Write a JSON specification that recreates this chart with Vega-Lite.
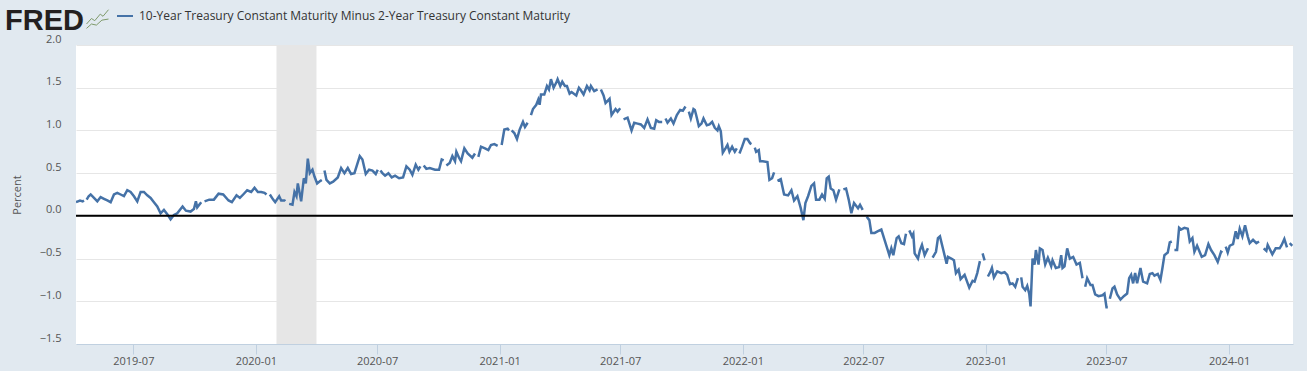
{"$schema":"https://vega.github.io/schema/vega-lite/v6.json","width":1217,"height":299,"autosize":{"type":"none"},"padding":{"left":76,"top":45,"right":14,"bottom":27},"background":"#e1e9f0","view":{"fill":"#ffffff","stroke":null},
"title":{"text":"FRED","anchor":"start","frame":"group","font":"Liberation Sans","fontWeight":"bold","fontSize":29,"color":"#231f20","dx":-71,"dy":33,"offset":4},
"datasets":{"series":[
{"date":"2019-04-06","value":0.16},{"date":"2019-04-09","value":0.17},{"date":"2019-04-12","value":0.18},{"date":"2019-04-16","value":0.17},{"date":"2019-04-18","value":0.18},{"date":"2019-04-19","value":null},{"date":"2019-04-22","value":0.19},{"date":"2019-04-25","value":0.23},{"date":"2019-04-28","value":0.25},{"date":"2019-05-03","value":0.21},{"date":"2019-05-08","value":0.17},{"date":"2019-05-13","value":0.22},{"date":"2019-05-18","value":0.2},{"date":"2019-05-23","value":0.18},{"date":"2019-05-28","value":0.16},{"date":"2019-06-02","value":0.25},{"date":"2019-06-07","value":0.27},{"date":"2019-06-12","value":0.25},{"date":"2019-06-17","value":0.23},{"date":"2019-06-22","value":0.3},{"date":"2019-06-27","value":0.28},{"date":"2019-07-02","value":0.23},{"date":"2019-07-07","value":0.17},{"date":"2019-07-12","value":0.28},{"date":"2019-07-17","value":0.28},{"date":"2019-07-22","value":0.24},{"date":"2019-07-27","value":0.21},{"date":"2019-08-01","value":0.16},{"date":"2019-08-06","value":0.11},{"date":"2019-08-11","value":0.03},{"date":"2019-08-16","value":0.07},{"date":"2019-08-21","value":0.02},{"date":"2019-08-26","value":-0.04},{"date":"2019-08-31","value":0.01},{"date":"2019-09-05","value":0.03},{"date":"2019-09-13","value":0.11},{"date":"2019-09-18","value":0.06},{"date":"2019-09-25","value":0.05},{"date":"2019-09-30","value":0.08},{"date":"2019-10-03","value":0.17},{"date":"2019-10-05","value":0.1},{"date":"2019-10-11","value":0.16},{"date":"2019-10-14","value":null},{"date":"2019-10-16","value":0.17},{"date":"2019-10-23","value":0.19},{"date":"2019-10-30","value":0.19},{"date":"2019-11-06","value":0.26},{"date":"2019-11-13","value":0.25},{"date":"2019-11-21","value":0.18},{"date":"2019-11-26","value":0.16},{"date":"2019-12-03","value":0.24},{"date":"2019-12-08","value":0.21},{"date":"2019-12-13","value":0.25},{"date":"2019-12-19","value":0.3},{"date":"2019-12-25","value":0.28},{"date":"2019-12-30","value":0.33},{"date":"2020-01-04","value":0.28},{"date":"2020-01-09","value":0.28},{"date":"2020-01-14","value":0.27},{"date":"2020-01-17","value":0.25},{"date":"2020-01-20","value":null},{"date":"2020-01-22","value":0.25},{"date":"2020-01-27","value":0.19},{"date":"2020-01-30","value":0.16},{"date":"2020-02-05","value":0.23},{"date":"2020-02-08","value":0.18},{"date":"2020-02-13","value":0.18},{"date":"2020-02-14","value":0.17},{"date":"2020-02-17","value":null},{"date":"2020-02-20","value":0.14},{"date":"2020-02-25","value":0.13},{"date":"2020-02-28","value":0.28},{"date":"2020-03-02","value":0.23},{"date":"2020-03-04","value":0.38},{"date":"2020-03-09","value":0.17},{"date":"2020-03-13","value":0.44},{"date":"2020-03-16","value":0.38},{"date":"2020-03-19","value":0.67},{"date":"2020-03-22","value":0.5},{"date":"2020-03-26","value":0.54},{"date":"2020-03-29","value":0.46},{"date":"2020-04-02","value":0.38},{"date":"2020-04-07","value":0.41},{"date":"2020-04-09","value":0.42},{"date":"2020-04-10","value":null},{"date":"2020-04-13","value":0.53},{"date":"2020-04-16","value":0.42},{"date":"2020-04-21","value":0.38},{"date":"2020-04-26","value":0.4},{"date":"2020-05-03","value":0.45},{"date":"2020-05-08","value":0.56},{"date":"2020-05-13","value":0.5},{"date":"2020-05-18","value":0.56},{"date":"2020-05-23","value":0.49},{"date":"2020-05-28","value":0.5},{"date":"2020-06-05","value":0.7},{"date":"2020-06-09","value":0.66},{"date":"2020-06-14","value":0.49},{"date":"2020-06-19","value":0.54},{"date":"2020-06-24","value":0.53},{"date":"2020-06-29","value":0.49},{"date":"2020-07-02","value":0.54},{"date":"2020-07-03","value":null},{"date":"2020-07-06","value":0.53},{"date":"2020-07-09","value":0.5},{"date":"2020-07-13","value":0.47},{"date":"2020-07-18","value":0.5},{"date":"2020-07-23","value":0.45},{"date":"2020-07-28","value":0.47},{"date":"2020-08-03","value":0.44},{"date":"2020-08-09","value":0.45},{"date":"2020-08-14","value":0.58},{"date":"2020-08-19","value":0.54},{"date":"2020-08-23","value":0.48},{"date":"2020-08-28","value":0.6},{"date":"2020-09-01","value":0.54},{"date":"2020-09-04","value":0.58},{"date":"2020-09-07","value":null},{"date":"2020-09-09","value":0.59},{"date":"2020-09-13","value":0.55},{"date":"2020-09-18","value":0.56},{"date":"2020-09-26","value":0.54},{"date":"2020-10-02","value":0.54},{"date":"2020-10-06","value":0.66},{"date":"2020-10-09","value":0.65},{"date":"2020-10-12","value":null},{"date":"2020-10-13","value":0.59},{"date":"2020-10-18","value":0.62},{"date":"2020-10-22","value":0.7},{"date":"2020-10-26","value":0.64},{"date":"2020-10-28","value":0.75},{"date":"2020-11-01","value":0.68},{"date":"2020-11-04","value":0.64},{"date":"2020-11-09","value":0.79},{"date":"2020-11-14","value":0.73},{"date":"2020-11-21","value":0.68},{"date":"2020-11-25","value":0.73},{"date":"2020-11-26","value":null},{"date":"2020-11-30","value":0.69},{"date":"2020-12-04","value":0.81},{"date":"2020-12-10","value":0.79},{"date":"2020-12-15","value":0.77},{"date":"2020-12-19","value":0.83},{"date":"2020-12-24","value":0.84},{"date":"2020-12-29","value":0.82},{"date":"2021-01-01","value":null},{"date":"2021-01-04","value":0.83},{"date":"2021-01-08","value":1.01},{"date":"2021-01-13","value":1.02},{"date":"2021-01-15","value":1.0},{"date":"2021-01-18","value":null},{"date":"2021-01-19","value":1.0},{"date":"2021-01-23","value":0.97},{"date":"2021-01-27","value":0.9},{"date":"2021-01-31","value":1.01},{"date":"2021-02-05","value":1.1},{"date":"2021-02-08","value":1.04},{"date":"2021-02-12","value":1.09},{"date":"2021-02-15","value":null},{"date":"2021-02-17","value":1.18},{"date":"2021-02-20","value":1.25},{"date":"2021-02-25","value":1.3},{"date":"2021-02-28","value":1.36},{"date":"2021-03-02","value":1.3},{"date":"2021-03-04","value":1.42},{"date":"2021-03-09","value":1.42},{"date":"2021-03-13","value":1.52},{"date":"2021-03-16","value":1.48},{"date":"2021-03-19","value":1.6},{"date":"2021-03-23","value":1.5},{"date":"2021-03-27","value":1.56},{"date":"2021-03-29","value":1.6},{"date":"2021-04-02","value":1.52},{"date":"2021-04-05","value":1.57},{"date":"2021-04-09","value":1.52},{"date":"2021-04-12","value":1.52},{"date":"2021-04-16","value":1.43},{"date":"2021-04-19","value":1.45},{"date":"2021-04-26","value":1.41},{"date":"2021-04-30","value":1.5},{"date":"2021-05-03","value":1.47},{"date":"2021-05-07","value":1.42},{"date":"2021-05-12","value":1.52},{"date":"2021-05-16","value":1.47},{"date":"2021-05-18","value":1.52},{"date":"2021-05-23","value":1.46},{"date":"2021-05-28","value":1.48},{"date":"2021-05-31","value":null},{"date":"2021-06-02","value":1.48},{"date":"2021-06-06","value":1.41},{"date":"2021-06-09","value":1.32},{"date":"2021-06-15","value":1.37},{"date":"2021-06-18","value":1.18},{"date":"2021-06-24","value":1.25},{"date":"2021-06-27","value":1.22},{"date":"2021-07-01","value":1.26},{"date":"2021-07-05","value":null},{"date":"2021-07-06","value":1.13},{"date":"2021-07-12","value":1.15},{"date":"2021-07-18","value":1.0},{"date":"2021-07-22","value":1.09},{"date":"2021-07-27","value":1.08},{"date":"2021-08-01","value":1.07},{"date":"2021-08-06","value":1.03},{"date":"2021-08-11","value":1.13},{"date":"2021-08-16","value":1.03},{"date":"2021-08-21","value":1.02},{"date":"2021-08-24","value":1.12},{"date":"2021-08-28","value":1.1},{"date":"2021-09-02","value":1.1},{"date":"2021-09-06","value":null},{"date":"2021-09-07","value":1.14},{"date":"2021-09-10","value":1.09},{"date":"2021-09-15","value":1.14},{"date":"2021-09-19","value":1.08},{"date":"2021-09-24","value":1.18},{"date":"2021-09-29","value":1.24},{"date":"2021-10-03","value":1.23},{"date":"2021-10-07","value":1.28},{"date":"2021-10-11","value":null},{"date":"2021-10-12","value":1.22},{"date":"2021-10-15","value":1.14},{"date":"2021-10-19","value":1.25},{"date":"2021-10-21","value":1.24},{"date":"2021-10-23","value":1.18},{"date":"2021-10-27","value":1.05},{"date":"2021-10-31","value":1.08},{"date":"2021-11-03","value":1.14},{"date":"2021-11-08","value":1.06},{"date":"2021-11-12","value":1.07},{"date":"2021-11-16","value":1.1},{"date":"2021-11-20","value":1.03},{"date":"2021-11-24","value":1.0},{"date":"2021-11-26","value":1.05},{"date":"2021-11-29","value":0.99},{"date":"2021-12-02","value":0.74},{"date":"2021-12-06","value":0.79},{"date":"2021-12-09","value":0.83},{"date":"2021-12-12","value":0.75},{"date":"2021-12-16","value":0.81},{"date":"2021-12-20","value":0.75},{"date":"2021-12-23","value":0.79},{"date":"2021-12-24","value":null},{"date":"2021-12-27","value":0.73},{"date":"2021-12-31","value":0.81},{"date":"2022-01-04","value":0.9},{"date":"2022-01-08","value":0.9},{"date":"2022-01-12","value":0.85},{"date":"2022-01-14","value":0.84},{"date":"2022-01-17","value":null},{"date":"2022-01-19","value":0.8},{"date":"2022-01-21","value":0.75},{"date":"2022-01-25","value":0.77},{"date":"2022-01-27","value":0.64},{"date":"2022-01-31","value":0.64},{"date":"2022-02-07","value":0.63},{"date":"2022-02-10","value":0.42},{"date":"2022-02-14","value":0.44},{"date":"2022-02-17","value":0.51},{"date":"2022-02-21","value":null},{"date":"2022-02-22","value":0.41},{"date":"2022-02-27","value":0.43},{"date":"2022-03-04","value":0.25},{"date":"2022-03-10","value":0.24},{"date":"2022-03-15","value":0.3},{"date":"2022-03-19","value":0.18},{"date":"2022-03-24","value":0.23},{"date":"2022-03-29","value":0.09},{"date":"2022-04-02","value":-0.05},{"date":"2022-04-05","value":0.15},{"date":"2022-04-09","value":0.23},{"date":"2022-04-14","value":0.35},{"date":"2022-04-18","value":0.38},{"date":"2022-04-21","value":0.19},{"date":"2022-04-26","value":0.19},{"date":"2022-04-30","value":0.25},{"date":"2022-05-04","value":0.2},{"date":"2022-05-07","value":0.44},{"date":"2022-05-10","value":0.46},{"date":"2022-05-13","value":0.32},{"date":"2022-05-17","value":0.3},{"date":"2022-05-21","value":0.19},{"date":"2022-05-26","value":0.31},{"date":"2022-05-30","value":null},{"date":"2022-06-01","value":0.31},{"date":"2022-06-05","value":0.32},{"date":"2022-06-09","value":0.19},{"date":"2022-06-13","value":0.03},{"date":"2022-06-17","value":0.15},{"date":"2022-06-23","value":0.09},{"date":"2022-06-26","value":0.13},{"date":"2022-06-30","value":0.07},{"date":"2022-07-04","value":null},{"date":"2022-07-06","value":-0.01},{"date":"2022-07-10","value":-0.05},{"date":"2022-07-13","value":-0.2},{"date":"2022-07-18","value":-0.2},{"date":"2022-07-23","value":-0.18},{"date":"2022-07-28","value":-0.16},{"date":"2022-08-01","value":-0.26},{"date":"2022-08-05","value":-0.36},{"date":"2022-08-09","value":-0.46},{"date":"2022-08-12","value":-0.38},{"date":"2022-08-15","value":-0.46},{"date":"2022-08-20","value":-0.26},{"date":"2022-08-23","value":-0.24},{"date":"2022-08-27","value":-0.32},{"date":"2022-08-31","value":-0.33},{"date":"2022-09-03","value":-0.21},{"date":"2022-09-05","value":null},{"date":"2022-09-08","value":-0.17},{"date":"2022-09-12","value":-0.24},{"date":"2022-09-14","value":-0.21},{"date":"2022-09-16","value":-0.44},{"date":"2022-09-21","value":-0.5},{"date":"2022-09-24","value":-0.4},{"date":"2022-09-27","value":-0.34},{"date":"2022-10-01","value":-0.46},{"date":"2022-10-06","value":-0.38},{"date":"2022-10-10","value":null},{"date":"2022-10-13","value":-0.49},{"date":"2022-10-18","value":-0.42},{"date":"2022-10-21","value":-0.26},{"date":"2022-10-24","value":-0.24},{"date":"2022-10-29","value":-0.4},{"date":"2022-11-03","value":-0.56},{"date":"2022-11-05","value":-0.48},{"date":"2022-11-10","value":-0.5},{"date":"2022-11-14","value":-0.52},{"date":"2022-11-17","value":-0.67},{"date":"2022-11-21","value":-0.63},{"date":"2022-11-24","value":-0.74},{"date":"2022-11-30","value":-0.69},{"date":"2022-12-07","value":-0.84},{"date":"2022-12-12","value":-0.76},{"date":"2022-12-15","value":-0.77},{"date":"2022-12-19","value":-0.67},{"date":"2022-12-23","value":-0.53},{"date":"2022-12-26","value":null},{"date":"2022-12-27","value":-0.44},{"date":"2022-12-30","value":-0.52},{"date":"2023-01-02","value":null},{"date":"2023-01-04","value":-0.71},{"date":"2023-01-08","value":-0.65},{"date":"2023-01-10","value":-0.61},{"date":"2023-01-13","value":-0.72},{"date":"2023-01-18","value":-0.65},{"date":"2023-01-24","value":-0.67},{"date":"2023-01-29","value":-0.66},{"date":"2023-02-02","value":-0.69},{"date":"2023-02-06","value":-0.8},{"date":"2023-02-10","value":-0.79},{"date":"2023-02-14","value":-0.83},{"date":"2023-02-18","value":-0.73},{"date":"2023-02-20","value":null},{"date":"2023-02-23","value":-0.72},{"date":"2023-02-25","value":-0.83},{"date":"2023-03-01","value":-0.87},{"date":"2023-03-04","value":-0.82},{"date":"2023-03-07","value":-0.91},{"date":"2023-03-09","value":-1.06},{"date":"2023-03-12","value":-0.5},{"date":"2023-03-15","value":-0.57},{"date":"2023-03-17","value":-0.4},{"date":"2023-03-21","value":-0.57},{"date":"2023-03-23","value":-0.38},{"date":"2023-03-27","value":-0.4},{"date":"2023-03-31","value":-0.57},{"date":"2023-04-04","value":-0.49},{"date":"2023-04-09","value":-0.59},{"date":"2023-04-11","value":-0.52},{"date":"2023-04-16","value":-0.61},{"date":"2023-04-21","value":-0.6},{"date":"2023-04-24","value":-0.46},{"date":"2023-04-26","value":-0.61},{"date":"2023-04-29","value":-0.59},{"date":"2023-05-03","value":-0.38},{"date":"2023-05-07","value":-0.5},{"date":"2023-05-12","value":-0.48},{"date":"2023-05-17","value":-0.57},{"date":"2023-05-22","value":-0.55},{"date":"2023-05-26","value":-0.73},{"date":"2023-05-29","value":null},{"date":"2023-05-30","value":-0.83},{"date":"2023-06-02","value":-0.73},{"date":"2023-06-07","value":-0.81},{"date":"2023-06-10","value":-0.81},{"date":"2023-06-14","value":-0.92},{"date":"2023-06-19","value":-0.94},{"date":"2023-06-25","value":-0.93},{"date":"2023-06-28","value":-0.91},{"date":"2023-07-01","value":-1.07},{"date":"2023-07-03","value":-1.07},{"date":"2023-07-04","value":null},{"date":"2023-07-06","value":-0.97},{"date":"2023-07-10","value":-0.85},{"date":"2023-07-13","value":-0.83},{"date":"2023-07-17","value":-0.92},{"date":"2023-07-22","value":-0.98},{"date":"2023-07-27","value":-0.94},{"date":"2023-08-01","value":-0.91},{"date":"2023-08-04","value":-0.73},{"date":"2023-08-07","value":-0.69},{"date":"2023-08-10","value":-0.79},{"date":"2023-08-13","value":-0.67},{"date":"2023-08-16","value":-0.79},{"date":"2023-08-21","value":-0.61},{"date":"2023-08-25","value":-0.77},{"date":"2023-08-31","value":-0.79},{"date":"2023-09-04","value":-0.68},{"date":"2023-09-08","value":-0.67},{"date":"2023-09-11","value":-0.7},{"date":"2023-09-16","value":-0.68},{"date":"2023-09-20","value":-0.75},{"date":"2023-09-23","value":-0.61},{"date":"2023-09-26","value":-0.46},{"date":"2023-10-01","value":-0.43},{"date":"2023-10-04","value":-0.31},{"date":"2023-10-07","value":-0.3},{"date":"2023-10-09","value":null},{"date":"2023-10-11","value":-0.4},{"date":"2023-10-15","value":-0.4},{"date":"2023-10-18","value":-0.14},{"date":"2023-10-21","value":-0.16},{"date":"2023-10-26","value":-0.14},{"date":"2023-10-31","value":-0.15},{"date":"2023-11-03","value":-0.3},{"date":"2023-11-07","value":-0.26},{"date":"2023-11-10","value":-0.42},{"date":"2023-11-14","value":-0.35},{"date":"2023-11-21","value":-0.48},{"date":"2023-11-26","value":-0.46},{"date":"2023-12-01","value":-0.33},{"date":"2023-12-05","value":-0.4},{"date":"2023-12-10","value":-0.46},{"date":"2023-12-15","value":-0.54},{"date":"2023-12-20","value":-0.42},{"date":"2023-12-22","value":-0.43},{"date":"2023-12-25","value":null},{"date":"2023-12-27","value":-0.36},{"date":"2023-12-30","value":-0.43},{"date":"2024-01-02","value":-0.35},{"date":"2024-01-07","value":-0.33},{"date":"2024-01-11","value":-0.18},{"date":"2024-01-14","value":-0.27},{"date":"2024-01-17","value":-0.15},{"date":"2024-01-21","value":-0.24},{"date":"2024-01-25","value":-0.11},{"date":"2024-01-29","value":-0.24},{"date":"2024-02-01","value":-0.32},{"date":"2024-02-06","value":-0.28},{"date":"2024-02-11","value":-0.32},{"date":"2024-02-15","value":-0.3},{"date":"2024-02-19","value":null},{"date":"2024-02-22","value":-0.38},{"date":"2024-02-26","value":-0.41},{"date":"2024-02-28","value":-0.34},{"date":"2024-03-06","value":-0.45},{"date":"2024-03-11","value":-0.38},{"date":"2024-03-17","value":-0.38},{"date":"2024-03-20","value":-0.34},{"date":"2024-03-24","value":-0.27},{"date":"2024-03-28","value":-0.37},{"date":"2024-03-29","value":null},{"date":"2024-04-01","value":-0.32},{"date":"2024-04-05","value":-0.35}
]},
"layer":[
{"data":{"values":[{"start":"2020-02-01","end":"2020-04-01"}]},"mark":{"type":"rect","color":"#e6e6e6"},"encoding":{"x":{"field":"start","type":"temporal"},"x2":{"field":"end"}}},
{"data":{"name":"series"},"mark":{"type":"line","strokeWidth":2.5,"clip":true},"encoding":{
"x":{"field":"date","type":"temporal","title":null,"scale":{"type":"utc","domain":["2019-04-06","2024-04-06"]},"axis":{"values":["2019-07-01","2020-01-01","2020-07-01","2021-01-01","2021-07-01","2022-01-01","2022-07-01","2023-01-01","2023-07-01","2024-01-01"],"format":"%Y-%m","grid":false,"tickSize":10,"tickColor":"#c0d0e0","domainColor":"#c0d0e0","labelFont":"Open Sans","labelFontSize":11,"labelColor":"#555555","labelPadding":1,"labelFlush":false,"labelOverlap":false}},
"y":{"field":"value","type":"quantitative","scale":{"domain":[-1.5,2],"nice":false,"zero":false},"axis":{"values":[-1.5,-1,-0.5,0,0.5,1,1.5,2],"format":".1f","title":"Percent","titleFont":"Open Sans","titleFontSize":11,"titleFontWeight":"normal","titleColor":"#555555","titlePadding":17,"grid":true,"gridColor":"#e6e6e6","gridWidth":1,"domain":false,"ticks":false,"labelFont":"Open Sans","labelFontSize":11,"labelColor":"#555555","labelPadding":15,"labelOffset":-6}},
"color":{"datum":"10-Year Treasury Constant Maturity Minus 2-Year Treasury Constant Maturity","scale":{"range":["#4572a7"]},"legend":{"orient":"none","legendX":40,"legendY":-38,"title":null,"symbolType":"stroke","symbolSize":256,"symbolStrokeWidth":2,"labelFont":"Open Sans","labelFontSize":12,"labelColor":"#333333","labelLimit":600,"labelOffset":5,"padding":0}}
}},
{"data":{"values":[{"zero":0}]},"mark":{"type":"rule","color":"#000000","strokeWidth":2},"encoding":{"y":{"field":"zero","type":"quantitative"}}},
{"data":{"values":[{"badge":" "}]},"mark":{"type":"point","opacity":0},"encoding":{"shape":{"field":"badge","type":"nominal","scale":{"range":["M-1,0.5L-0.55,0L-0.25,0.2L0.25,-0.4L0.5,-0.2L1,-0.8M-1,0.9L-0.55,0.5L-0.1,0.6L0.4,0.15L1,0.05"]},"legend":{"orient":"none","legendX":10,"legendY":-38,"title":null,"symbolSize":484,"symbolOpacity":1,"symbolStrokeColor":"#7f9a6b","symbolFillColor":"transparent","symbolStrokeWidth":1,"padding":0,"labelFontSize":1}}}}
]}
